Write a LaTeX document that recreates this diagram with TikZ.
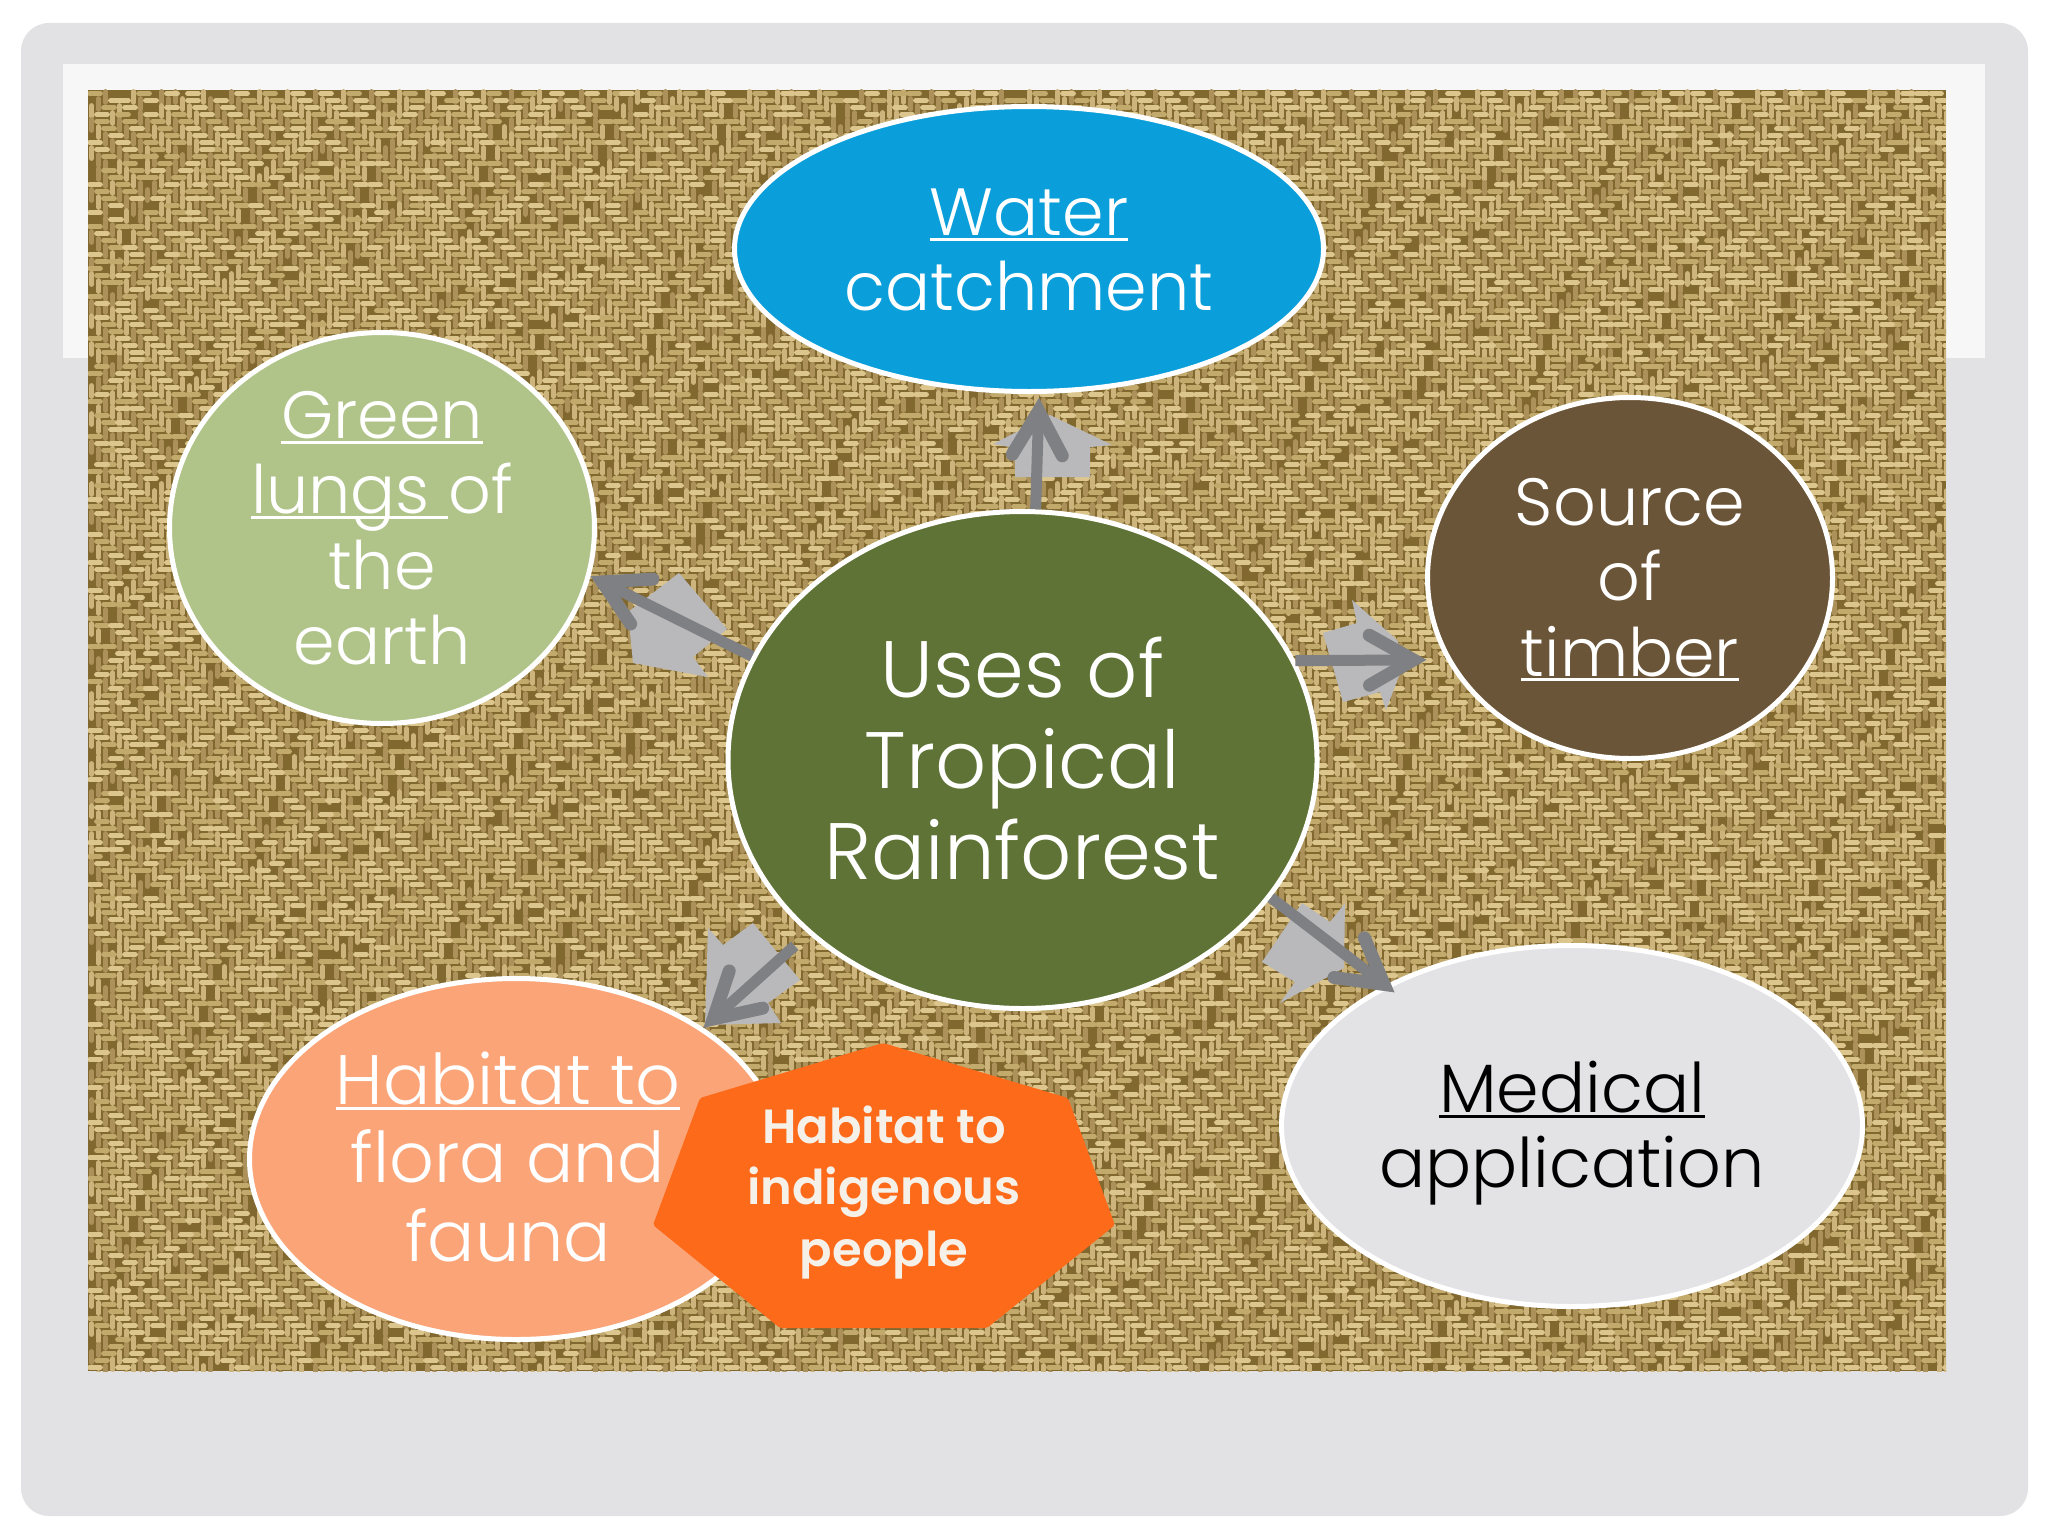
\documentclass[tikz,border=0pt]{standalone}
\usepackage{fontspec}
\setmainfont{Poppins}[UprightFont=* Light,BoldFont=* SemiBold]
\usetikzlibrary{arrows.meta,shapes.geometric}
\definecolor{panel}{HTML}{E2E2E4}
\definecolor{frameW}{HTML}{F7F7F8}
\definecolor{cGreen}{HTML}{5E7335}
\definecolor{cBlue}{HTML}{0A9FDA}
\definecolor{cSage}{HTML}{B0C48A}
\definecolor{cBrown}{HTML}{6B5538}
\definecolor{cPale}{HTML}{E3E3E5}
\definecolor{cPeach}{HTML}{FBA477}
\definecolor{cOrange}{HTML}{FD6A1A}
\definecolor{cCream}{HTML}{F5F0E8}
\definecolor{arrGray}{HTML}{7F8083}
\definecolor{arrLight}{HTML}{B9B9BC}
\definecolor{wBase}{HTML}{80682F}
\definecolor{wHa}{HTML}{DCC68E}
\definecolor{wHb}{HTML}{C2A96C}
\definecolor{wVa}{HTML}{CCB47C}
\definecolor{wVb}{HTML}{AC925A}
\newcount\Wi \newcount\Wk \newcount\Wh \newcount\Ws \newcount\Wt \newcount\Wa \newcount\Wb
% one pass over row #1: #2 = 0 horizontal floats, 1 vertical floats; #3 = shade class (0 dark, 1 light)
\newcommand\WeaveRow[3]{%
  \Wi=0
  \loop
    % irregular blocks of the weave: each has its own direction and phase
    \Wa=\numexpr(\Wi+#1/3)/8\relax
    \Wb=\numexpr(#1+\Wi/5)/7\relax
    \Wt=\numexpr\Wa*37+\Wb*91+\Wa*\Wb*11\relax
    \Wh=\Wt \divide\Wh by 4 \multiply\Wh by 4 \advance\Wt by -\Wh
    \ifodd\Wt \Ws=-1 \else \Ws=1 \fi
    \Wk=\numexpr\Wi+\Ws*#1+\Wt+4000\relax
    \Wh=\Wk \divide\Wh by 4 \multiply\Wh by 4 \advance\Wk by -\Wh
    \Wh=\numexpr\Wi*73+#1*179+\Wi*#1*13\relax
    \Wt=\Wh \divide\Wt by 5 \multiply\Wt by 5 \advance\Wh by -\Wt
    \ifnum\Wh<2 \Wh=0 \else \Wh=1 \fi
    \ifnum\Wh=#3\relax
      \ifnum#2=0
        \ifnum\Wk=0
          \pgfpathmoveto{\pgfqpoint{\dimexpr44pt+3.5pt*\Wi+0.9pt\relax}{\dimexpr-45pt-3.5pt*#1-1.75pt\relax}}%
          \pgfpathlineto{\pgfqpoint{\dimexpr44pt+3.5pt*\Wi+6.1pt\relax}{\dimexpr-45pt-3.5pt*#1-1.75pt\relax}}%
        \fi
      \else
        \ifnum\Wk=\ifnum\Ws>0 2\else 3\fi\relax
          \pgfpathmoveto{\pgfqpoint{\dimexpr44pt+3.5pt*\Wi+1.75pt\relax}{\dimexpr-45pt-3.5pt*#1-0.9pt\relax}}%
          \pgfpathlineto{\pgfqpoint{\dimexpr44pt+3.5pt*\Wi+1.75pt\relax}{\dimexpr-45pt-3.5pt*#1-6.1pt\relax}}%
        \fi
      \fi
    \fi
    \advance\Wi by 1
  \ifnum\Wi<268 \repeat
  \pgfusepath{stroke}%
}
\newcommand\ulx[1]{\setbox0=\hbox{#1}\rlap{\rule[-2.6pt]{\wd0}{1.5pt}}#1}
\newcommand\Hs[1]{\rule{0pt}{#1pt}}
\newcommand\Ds[1]{\rule[-#1pt]{0pt}{#1pt}}
\tikzset{
  x=0.5pt,y=-0.5pt,
  ell/.style={ellipse,draw=white,line width=2.5pt,inner sep=0pt,align=center,text=white},
  mid/.style={font=\fontsize{33.4}{37.6}\selectfont},
  conn/.style={draw=arrGray,line width=5.5pt,-{Straight Barb[length=22pt,width=25pt,line width=6.5pt,line cap=round,line join=miter]}},
  wing/.style={fill=arrLight}
}
\begin{document}
\begin{tikzpicture}
\useasboundingbox (0,0) rectangle (2048,1536);
\fill[white] (0,0) rectangle (2048,1536);
\fill[panel,rounded corners=14pt] (21,23) rectangle (2028,1516);
\fill[frameW] (63,64) rectangle (1985,358);
\fill[wBase] (88,90) rectangle (1946,1371);
\begin{scope}
\clip (88,90) rectangle (1946,1371);
\pgfsetlinewidth{2.7pt}\pgfsetroundcap
\foreach \r in {0,...,184}{%
  \pgfsetstrokecolor{wVb}\WeaveRow{\r}{1}{0}%
  \pgfsetstrokecolor{wVa}\WeaveRow{\r}{1}{1}%
}
\foreach \r in {0,...,184}{%
  \pgfsetstrokecolor{wHb}\WeaveRow{\r}{0}{0}%
  \pgfsetstrokecolor{wHa}\WeaveRow{\r}{0}{1}%
}
\end{scope}
% light block arrows
\fill[wing] (993,444)--(1050,415)--(1112,445)--(1090,447)--(1090,477)--(1015,477)--(1015,448)--cycle;
\fill[wing] (679,573)--(727,629)--(693,657)--(708,677)--(633,663)--(628,612)--cycle;
\fill[wing] (1352,600)--(1397,640)--(1405,660)--(1386,710)--(1380,692)--(1343,702)--(1323,633)--(1357,623)--cycle;
\fill[wing] (1302,903)--(1330,922)--(1345,903)--(1344,968)--(1280,1003)--(1295,982)--(1262,962)--cycle;
\fill[wing] (753,923)--(800,980)--(768,1003)--(781,1023)--(705,1025)--(708,928)--(723,945)--cycle;
% ellipses
\node[ell,font=\fontsize{40}{45.5}\selectfont,fill=cGreen,minimum width=294.5pt,minimum height=248.5pt] (core) at (1022.5,760)
  {\Hs{33.5}Uses of\\Tropical\\Rainforest\Ds{5}};
\node[ell,mid,fill=cBlue,minimum width=294.5pt,minimum height=142.5pt] (water) at (1029,249)
  {\Hs{28.9}\ulx{Water}\\catchment\Ds{5}};
\node[ell,mid,fill=cSage,inner ysep=-30pt,minimum width=212.5pt,minimum height=195.5pt] (green) at (382,528)
  {\Hs{33.4}\ulx{Green}\\\ulx{lungs }of\\the\\earth\Ds{10}};
\node[ell,mid,fill=cBrown,minimum width=202.5pt,minimum height=180.5pt] (source) at (1630,578)
  {\Hs{32.9}Source\\of\\\ulx{timber}\Ds{10}};
\node[ell,font=\fontsize{34.2}{37.6}\selectfont,fill=cPale,text=black,minimum width=290.5pt,minimum height=180.5pt] (medical) at (1572,1126)
  {\Hs{38.9}\ulx{Medical}\\application\Ds{15}};
\node[ell,fill=cPeach,font=\fontsize{35}{39.3}\selectfont,minimum width=266.5pt,minimum height=180.5pt] (habitat) at (516,1159)
  {\hspace*{-8pt}\Hs{33.9}\ulx{Habitat to}\\\hspace*{-8pt}flora and\\\hspace*{-8pt}fauna\Ds{10}};
% heptagon
\fill[cOrange,rounded corners=1pt] (883,1043)--(1068,1098)--(1115,1225)--(987,1328)--(780,1328)--(653,1225)--(700,1098)--cycle;
\node[inner sep=0pt,align=center,text=cCream,font=\fontsize{24}{30.75}\selectfont\bfseries] (people) at (884,1190)
  {\Hs{24.9}Habitat to\\indigenous\\people\Ds{10}};
% connectors
\draw[conn,shorten >=2pt] (core.87.8) -- (water.274);
\draw[conn] (core.159.7) -- (green.-13.9);
\draw[conn,shorten >=10pt] (core.20.8) -- (source.204.1);
\draw[conn,shorten >=-6pt] (core.-29.3) -- (medical.143.2);
\draw[conn,shorten <=9pt] (core.219.7) -- (habitat.35.6);
\end{tikzpicture}
\end{document}
